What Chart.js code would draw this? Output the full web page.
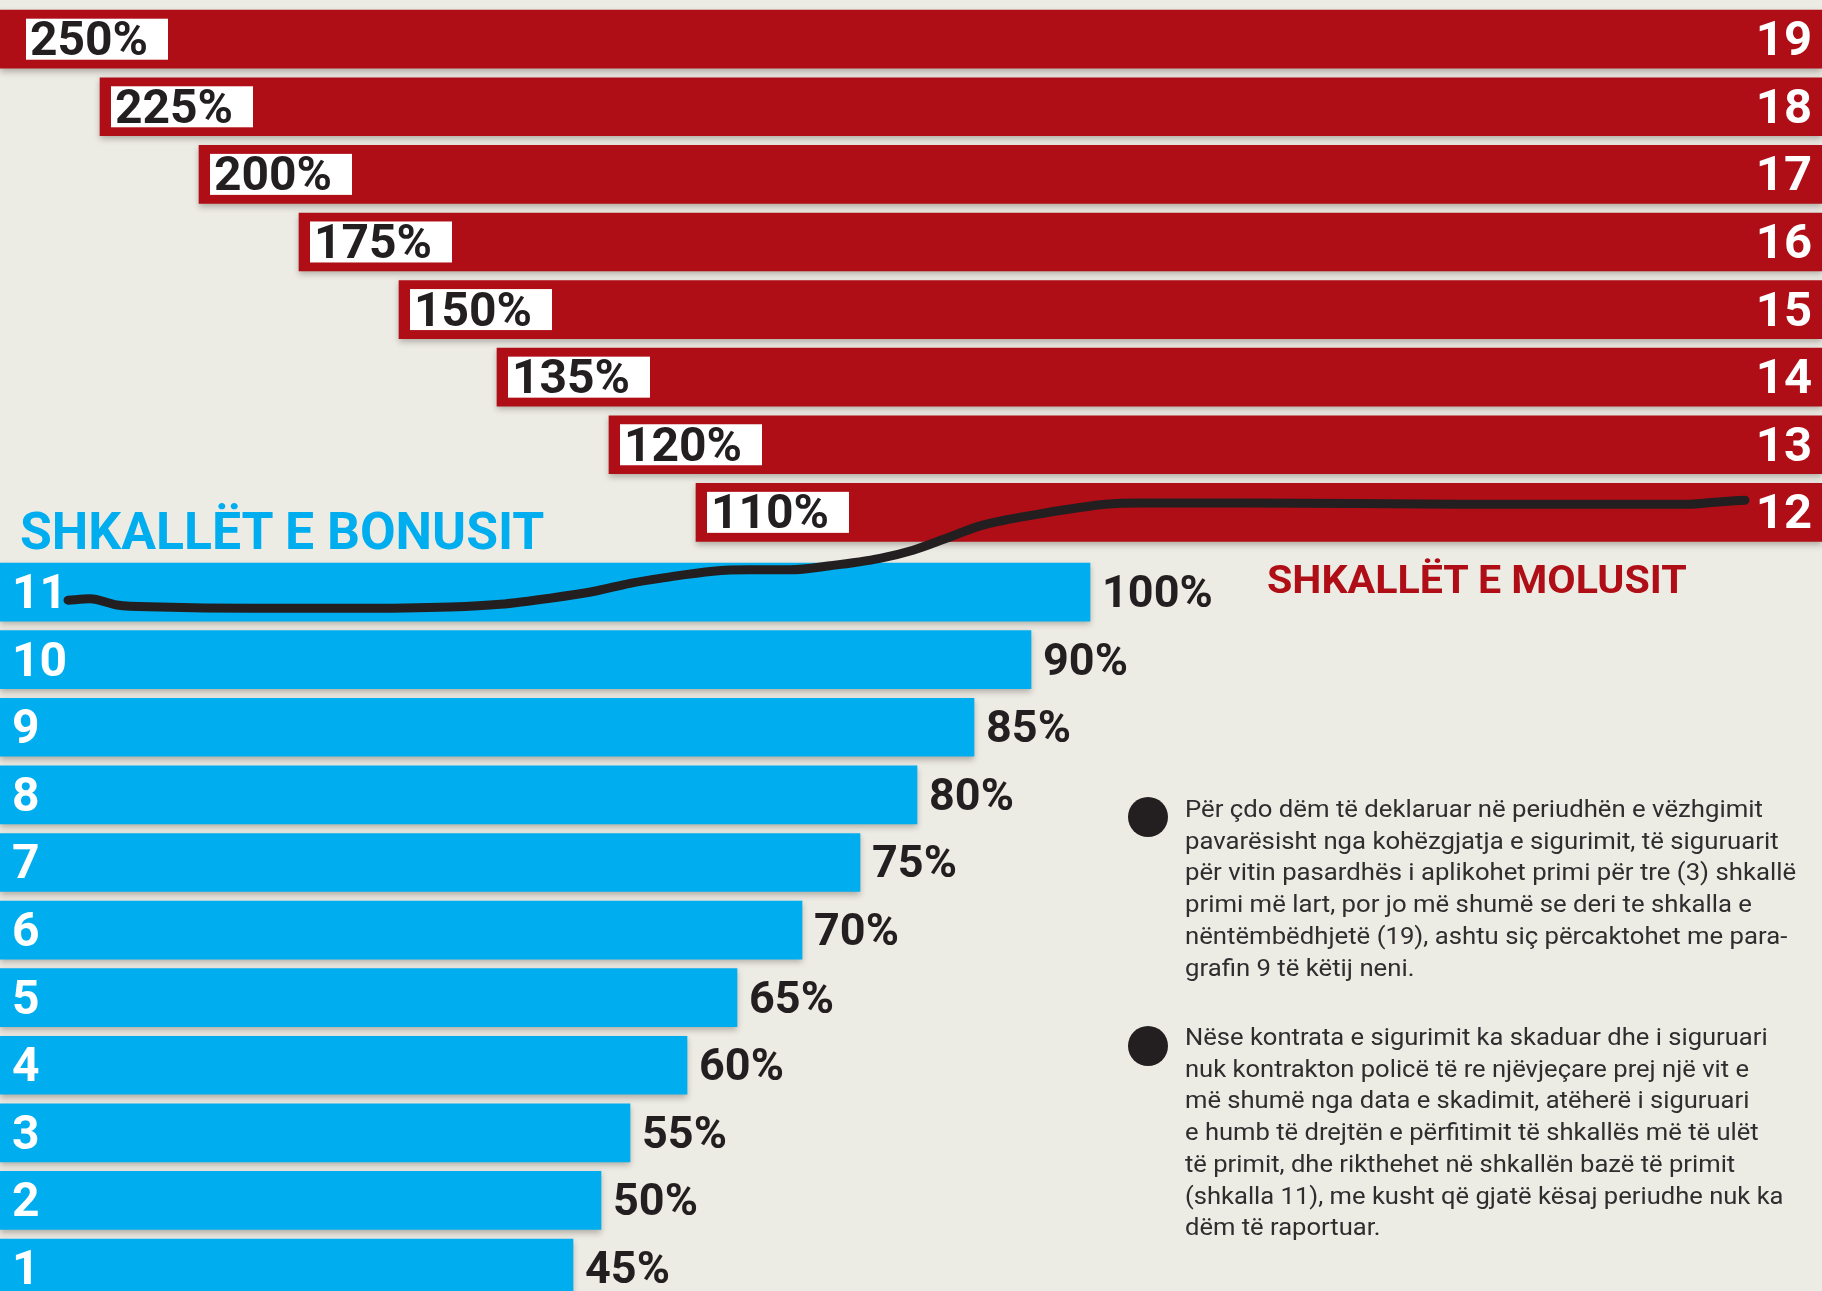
<!DOCTYPE html>
<html>
<head>
<meta charset="utf-8">
<script src="https://cdn.jsdelivr.net/npm/chart.js@4.4.1/dist/chart.umd.min.js"></script>
<style>
  html, body { margin: 0; padding: 0; background: #ecebe4; }
  #wrap { position: relative; width: 1822px; height: 1291px; overflow: hidden; }
  #ladder { position: absolute; left: 0; top: 0; }
  .title { position: absolute; font-family: Roboto, sans-serif; font-weight: 700; line-height: 1; white-space: nowrap; transform-origin: 0 0; }
  .note { position: absolute; left: 1185px; font-family: Roboto, sans-serif; font-size: 24.5px; line-height: 31.7px; color: #2f2d2e; white-space: nowrap; transform-origin: 0 0; }
  .dot { position: absolute; left: 1128px; width: 40px; height: 40px; border-radius: 50%; background: #231f20; }
</style>
</head>
<body>
<div id="wrap">
  <canvas id="ladder" width="1822" height="1291"></canvas>
  <div class="title" data-w="524" style="left:20px; top:505px; font-size:52.7px; color:#00aeef;">SHKALLËT E BONUSIT</div>
  <div class="title" data-w="420" style="left:1267px; top:560px; font-size:39.4px; color:#b00e17;">SHKALLËT E MOLUSIT</div>

  <div class="dot" style="top:797px;"></div>
  <div class="note" data-w="611" style="top:793px;">Për çdo dëm të deklaruar në periudhën e vëzhgimit<br>pavarësisht nga kohëzgjatja e sigurimit, të siguruarit<br>për vitin pasardhës i aplikohet primi për tre (3) shkallë<br>primi më lart, por jo më shumë se deri te shkalla e<br>nëntëmbëdhjetë (19), ashtu siç përcaktohet me para-<br>grafin 9 të këtij neni.</div>

  <div class="dot" style="top:1026px;"></div>
  <div class="note" data-w="599" style="top:1021px;">Nëse kontrata e sigurimit ka skaduar dhe i siguruari<br>nuk kontrakton policë të re njëvjeçare prej një vit e<br>më shumë nga data e skadimit, atëherë i siguruari<br>e humb të drejtën e përfitimit të shkallës më të ulët<br>të primit, dhe rikthehet në shkallën bazë të primit<br>(shkalla 11), me kusht që gjatë kësaj periudhe nuk ka<br>dëm të raportuar.</div>
</div>

<script>
// malus steps (red), top to bottom
const malusLevels = [19, 18, 17, 16, 15, 14, 13, 12];
const malusRates = ["250%", "225%", "200%", "175%", "150%", "135%", "120%", "110%"];
const malusStart = [0, 100, 199, 299, 399, 497, 609, 696];

// bonus steps (blue), top to bottom
const bonusLevels = [11, 10, 9, 8, 7, 6, 5, 4, 3, 2, 1];
const bonusRates = ["100%", "90%", "85%", "80%", "75%", "70%", "65%", "60%", "55%", "50%", "45%"];
const bonusEnd = [1090, 1031, 974, 917, 860, 802, 737, 687, 630, 601, 573];

// hand drawn curve from step 11 up to step 12
const curveX = [68, 90, 117, 160, 250, 350, 450, 500, 550, 597, 630, 663, 713, 750, 790, 830, 880, 913, 947, 980, 1010, 1045, 1075, 1105, 1140, 1250, 1460, 1690, 1715, 1745];
const curveY = [10.88, 10.9, 10.81, 10.78, 10.76, 10.76, 10.78, 10.82, 10.91, 11.02, 11.13, 11.21, 11.31, 11.33, 11.33, 11.39, 11.5, 11.62, 11.8, 11.98, 12.08, 12.17, 12.24, 12.3, 12.32, 12.32, 12.3, 12.3, 12.33, 12.36];

// layout
const X_MAX = 1822;
const Y_MIN = 0.66;
const Y_MAX = 19.76;
const MALUS_GAP = 0.18;   // extra space between the red and blue blocks
const RED = "#b00e17";
const BLUE = "#00aeef";
const INK = "#231f20";

const shadowPlugin = {
  id: "barShadow",
  beforeDatasetDraw(chart, args) {
    if (args.meta.type !== "bar") return;
    const ctx = chart.ctx;
    ctx.save();
    ctx.shadowColor = "rgba(70, 60, 50, 0.35)";
    ctx.shadowBlur = 6;
    ctx.shadowOffsetX = 0;
    ctx.shadowOffsetY = 3;
  },
  afterDatasetDraw(chart, args) {
    if (args.meta.type !== "bar") return;
    chart.ctx.restore();
  },
};

const labelPlugin = {
  id: "rowLabels",
  afterDatasetsDraw(chart) {
    const ctx = chart.ctx;
    const area = chart.chartArea;
    ctx.save();
    ctx.textBaseline = "alphabetic";

    chart.getDatasetMeta(1).data.forEach((bar, i) => {
      const left = Math.max(Math.min(bar.x, bar.base), area.left + 15) + 11;
      ctx.fillStyle = "#ffffff";
      ctx.fillRect(left, bar.y - 20.5, 142, 41);
      ctx.fillStyle = INK;
      ctx.font = "700 48px Roboto, sans-serif";
      ctx.textAlign = "left";
      ctx.fillText(malusRates[i], left + 4, bar.y + 16);
      ctx.fillStyle = "#ffffff";
      ctx.font = "700 49px Roboto, sans-serif";
      ctx.textAlign = "right";
      ctx.fillText(String(malusLevels[i]), area.right - 10, bar.y + 16);
    });

    chart.getDatasetMeta(2).data.forEach((bar, i) => {
      const right = Math.max(bar.x, bar.base);
      ctx.textAlign = "left";
      ctx.fillStyle = "#ffffff";
      ctx.font = "700 48px Roboto, sans-serif";
      ctx.fillText(String(bonusLevels[i]), area.left + 12, bar.y + 16);
      ctx.fillStyle = INK;
      ctx.font = "700 45px Roboto, sans-serif";
      ctx.fillText(bonusRates[i], right + 12, bar.y + 15);
    });
    ctx.restore();
  },
};

new Chart(document.getElementById("ladder"), {
  type: "bar",
  data: {
    datasets: [
      {
        type: "line",
        indexAxis: "x",
        data: curveX.map((x, i) => ({ x: x, y: curveY[i] })),
        borderColor: INK,
        borderWidth: 9,
        borderCapStyle: "round",
        borderJoinStyle: "round",
        cubicInterpolationMode: "monotone",
        pointRadius: 0,
        fill: false,
        order: 0,
      },
      {
        type: "bar",
        indexAxis: "y",
        data: malusLevels.map((lvl, i) => ({ y: lvl + MALUS_GAP, x: [malusStart[i], X_MAX] })),
        backgroundColor: RED,
        borderWidth: 0,
        barThickness: 58,
        grouped: false,
        order: 1,
      },
      {
        type: "bar",
        indexAxis: "y",
        data: bonusLevels.map((lvl, i) => ({ y: lvl, x: [0, bonusEnd[i]] })),
        backgroundColor: BLUE,
        borderWidth: 0,
        barThickness: 58,
        grouped: false,
        order: 1,
      },
    ],
  },
  options: {
    responsive: false,
    animation: false,
    layout: { padding: 0 },
    plugins: {
      legend: { display: false },
      tooltip: { enabled: false },
    },
    scales: {
      x: { type: "linear", min: 0, max: X_MAX, offset: false, grid: { offset: false }, display: false },
      y: { type: "linear", min: Y_MIN, max: Y_MAX, offset: false, grid: { offset: false }, display: false },
    },
  },
  plugins: [shadowPlugin, labelPlugin],
});

// squeeze the titles and notes to the widths used in the print layout
document.querySelectorAll("[data-w]").forEach((el) => {
  const natural = el.scrollWidth;
  const target = Number(el.dataset.w);
  if (natural > 0) el.style.transform = `scaleX(${target / natural})`;
});
</script>
</body>
</html>
